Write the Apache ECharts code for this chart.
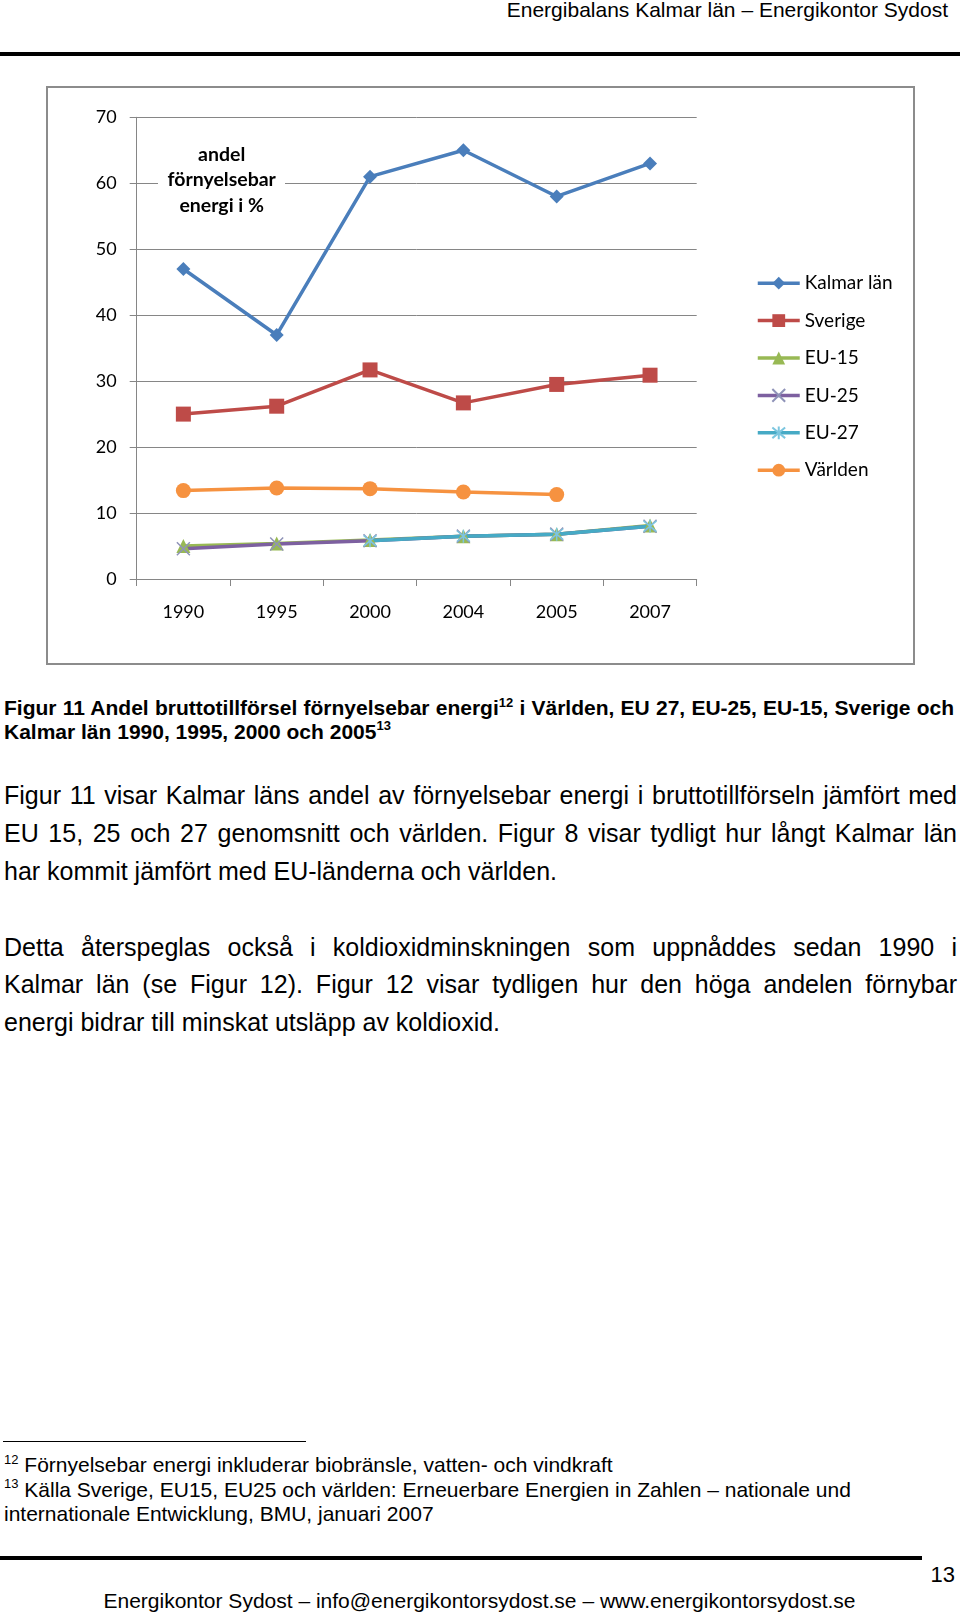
<!DOCTYPE html>
<html><head><meta charset="utf-8">
<script src="https://cdn.jsdelivr.net/npm/echarts@6/dist/echarts.min.js"></script>
<style>
html,body{margin:0;padding:0;background:#fff;}
#page{position:relative;width:960px;height:1613px;overflow:hidden;font-family:"Liberation Sans",Arial,sans-serif;color:#000;}
.t{position:absolute;white-space:nowrap;}
.j{position:absolute;text-align:justify;text-align-last:justify;}
.rule{position:absolute;background:#000;}
.sup{position:relative;font-size:13px;line-height:0;vertical-align:baseline;top:-0.62em;}
#chart{position:absolute;left:46px;top:86px;width:869px;height:579px;}
</style></head>
<body><div id="page">
<div class="t" style="right:12px;top:-2px;font-size:21px;line-height:24px;">Energibalans Kalmar län – Energikontor Sydost</div>
<div class="rule" style="left:0;top:51.5px;width:960px;height:4px;"></div>
<div id="chart"></div>

<div class="j" style="left:4px;top:696px;width:950px;font-size:21px;line-height:24px;font-weight:bold;">Figur 11 Andel bruttotillförsel förnyelsebar energi<span class="sup">12</span> i Världen, EU 27, EU-25, EU-15, Sverige och</div>
<div class="t" style="left:4px;top:719.5px;font-size:21px;line-height:24px;font-weight:bold;">Kalmar län 1990, 1995, 2000 och 2005<span class="sup">13</span></div>

<div class="j" style="left:4px;top:776.3px;width:953px;font-size:25px;line-height:38px;">Figur 11 visar Kalmar läns andel av förnyelsebar energi i bruttotillförseln jämfört med</div>
<div class="j" style="left:4px;top:814.3px;width:953px;font-size:25px;line-height:38px;">EU 15, 25 och 27 genomsnitt och världen. Figur 8 visar tydligt hur långt Kalmar län</div>
<div class="t" style="left:4px;top:852.4px;font-size:25px;line-height:38px;">har kommit jämfört med EU-länderna och världen.</div>

<div class="j" style="left:4px;top:927.5px;width:953px;font-size:25px;line-height:38px;">Detta återspeglas också i koldioxidminskningen som uppnåddes sedan 1990 i</div>
<div class="j" style="left:4px;top:964.5px;width:953px;font-size:25px;line-height:38px;">Kalmar län (se Figur 12). Figur 12 visar tydligen hur den höga andelen förnybar</div>
<div class="t" style="left:4px;top:1002.6px;font-size:25px;line-height:38px;">energi bidrar till minskat utsläpp av koldioxid.</div>

<div class="rule" style="left:3px;top:1440.5px;width:303px;height:1.5px;"></div>
<div class="t" style="left:4px;top:1453px;font-size:21px;line-height:24px;"><span class="sup">12</span> Förnyelsebar energi inkluderar biobränsle, vatten- och vindkraft</div>
<div class="t" style="left:4px;top:1477.5px;font-size:21px;line-height:24px;"><span class="sup">13</span> Källa Sverige, EU15, EU25 och världen: Erneuerbare Energien in Zahlen – nationale und</div>
<div class="t" style="left:4px;top:1501.5px;font-size:21px;line-height:24px;">internationale Entwicklung, BMU, januari 2007</div>

<div class="rule" style="left:0;top:1556px;width:922px;height:3.5px;"></div>
<div class="t" style="right:5px;top:1562px;font-size:22px;line-height:26px;">13</div>
<div class="t" style="left:0;width:959px;text-align:center;top:1589px;font-size:21px;line-height:24px;">Energikontor Sydost – info@energikontorsydost.se – www.energikontorsydost.se</div>
</div>
<script>
// ---- data ----
const categories = ['1990', '1995', '2000', '2004', '2005', '2007'];
const kalmarLan = [47, 37, 61, 65, 58, 63];
const sverige = [25.0, 26.2, 31.7, 26.7, 29.5, 30.9];
const eu15 = [5.0, 5.4, 5.9, 6.5, 6.8, 8.1];
const eu25 = [4.6, 5.3, 5.8, 6.5, 6.8, 8.0];
const eu27 = [null, null, 5.8, 6.5, 6.8, 8.0];
const varlden = [13.4, 13.8, 13.7, 13.2, 12.8, null];
const seriesNames = ['Kalmar län', 'Sverige', 'EU-15', 'EU-25', 'EU-27', 'Världen'];
const yMin = 0, yMax = 70, yStep = 10;
const annotation = 'andel\nförnyelsebar\nenergi i %';

const chart = echarts.init(document.getElementById('chart'), null, {renderer: 'canvas'});
const grey = '#868686';
function filled(name, data, color, symbol, size) {
  return {
    name, type: 'line', data, symbol, symbolSize: size, connectNulls: false,
    lineStyle: {color, width: 3.5},
    itemStyle: {color, borderWidth: 0},
    emphasis: {disabled: true}
  };
}
function stroked(name, data, color, mColor, path, size) {
  return {
    name, type: 'line', data, symbol: path, symbolSize: size, connectNulls: false,
    lineStyle: {color, width: 3.5},
    itemStyle: {color: 'rgba(0,0,0,0)', borderColor: mColor, borderWidth: 1.5},
    emphasis: {disabled: true}
  };
}
const option = {
  animation: false,
  textStyle: {fontFamily: 'Lato'},
  grid: {left: 90.7, top: 31.3, width: 560, height: 461.7, containLabel: false, outerBoundsMode: 'none'},
  xAxis: {
    type: 'category', data: categories, boundaryGap: true,
    axisLine: {show: true, lineStyle: {color: grey, width: 1}},
    axisTick: {show: true, length: 7, inside: false, lineStyle: {color: grey}},
    axisLabel: {fontSize: 18, color: '#000', margin: 24, fontFamily: 'Lato'},
    splitLine: {show: false}
  },
  yAxis: {
    type: 'value', min: yMin, max: yMax, interval: yStep,
    axisLine: {show: true, lineStyle: {color: grey, width: 1}},
    axisTick: {show: true, length: 7, lineStyle: {color: grey}},
    axisLabel: {fontSize: 18, color: '#000', margin: 20, fontFamily: 'Lato'},
    splitLine: {show: true, lineStyle: {color: grey, width: 1}}
  },
  legend: {
    orient: 'vertical', left: 710, top: 187.7, itemWidth: 42, itemHeight: 16, itemGap: 18.4,
    padding: 0,
    lineStyle: {width: 3.5},
    textStyle: {fontSize: 19, lineHeight: 18, color: '#000', fontFamily: 'Lato'},
    data: seriesNames
  },
  graphic: [
    {type: 'rect', z: 100, silent: true, shape: {x: 1, y: 1, width: 867, height: 577},
     style: {fill: 'none', stroke: '#8c8c8c', lineWidth: 2}},
    {type: 'rect', z: 100, silent: true, shape: {x: 112, y: 56, width: 127, height: 76},
     style: {fill: '#fff'}},
    {type: 'text', z: 101, silent: true, x: 175.7, y: 94,
     style: {text: annotation, font: 'bold 19.5px Lato', fill: '#000', align: 'center', verticalAlign: 'middle', lineHeight: 25.5}}
  ],
  series: [
    filled(seriesNames[0], kalmarLan, '#4A7EBB', 'diamond', 14),
    filled(seriesNames[1], sverige, '#BE4B48', 'rect', 15),
    filled(seriesNames[2], eu15, '#98B954', 'triangle', 14),
    stroked(seriesNames[3], eu25, '#7D60A0', '#8f93b8', 'path://M0,0L10,10M10,0L0,10', 13),
    stroked(seriesNames[4], eu27, '#46AAC5', '#7cc6df', 'path://M0,0L10,10M10,0L0,10M5,-1L5,11', 13),
    filled(seriesNames[5], varlden, '#F69240', 'circle', 15)
  ]
};
chart.setOption(option);
</script>
</body></html>
